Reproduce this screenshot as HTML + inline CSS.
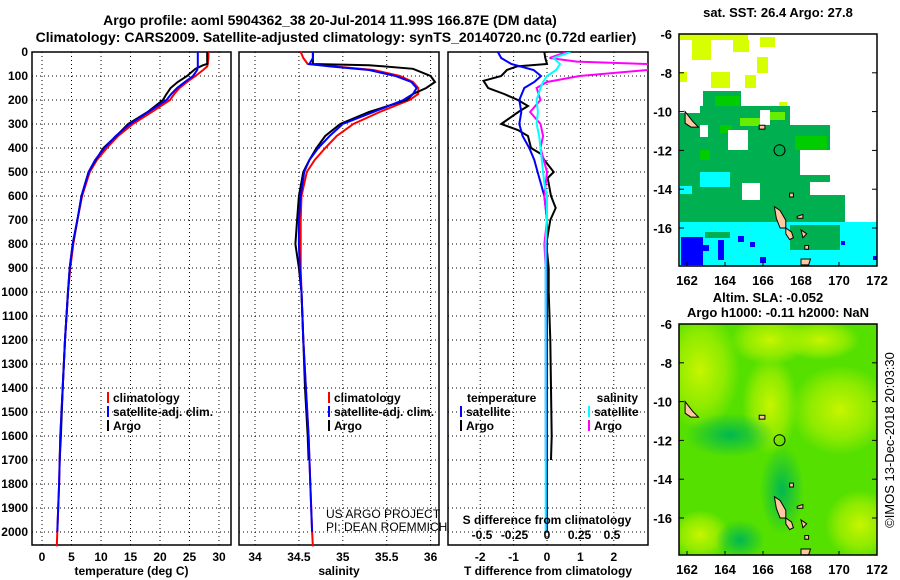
<!DOCTYPE html>
<html><head><meta charset="utf-8"><style>
html,body{margin:0;padding:0;background:#fff;}
svg{display:block;font-family:"Liberation Sans",sans-serif;}
.t{font-weight:bold;font-size:12px;}
.g{stroke:#000;stroke-width:1;stroke-dasharray:1,3;}
</style></head><body>
<svg id="chart" width="900" height="580" viewBox="0 0 900 580" xmlns="http://www.w3.org/2000/svg">
<defs>
<clipPath id="c3"><rect x="448" y="52" width="200" height="493"/></clipPath>
<clipPath id="cm1"><rect x="679" y="34" width="198" height="232"/></clipPath>
<clipPath id="cm2"><rect x="679" y="324" width="198" height="231"/></clipPath>
<radialGradient id="yg"><stop offset="0" stop-color="#c8f500"/><stop offset="0.6" stop-color="#aaf000" stop-opacity="0.7"/><stop offset="1" stop-color="#aaf000" stop-opacity="0"/></radialGradient>
<radialGradient id="dg"><stop offset="0" stop-color="#00b850"/><stop offset="1" stop-color="#00b850" stop-opacity="0"/></radialGradient>
</defs>
<text x="330" y="25" text-anchor="middle" style="font-weight:bold;font-size:14px">Argo profile: aoml 5904362_38 20-Jul-2014 11.99S 166.87E (DM data)</text>
<text x="336" y="42" text-anchor="middle" style="font-weight:bold;font-size:14px">Climatology: CARS2009. Satellite-adjusted climatology: synTS_20140720.nc (0.72d earlier)</text>
<g id="panels"></g>
<g id="maps"></g>
<text transform="translate(894,440) rotate(-90)" text-anchor="middle" style="font-size:13px">©IMOS 13-Dec-2018 20:03:30</text>
</svg>
<script>
// ---- data ----
const depthClim=[0,25,50,60,75,100,125,150,175,200,250,300,350,400,450,500,600,700,800,900,1000,1200,1400,1600,1800,2000,2060];
const tClim=[28.2,28.2,28.1,28.0,27.3,26.0,24.6,23.3,22.4,21.7,18.6,15.4,12.9,11.0,9.3,8.1,6.8,6.0,5.3,4.8,4.4,3.9,3.5,3.1,2.9,2.6,2.5];
const tSat=[26.4,26.4,26.4,26.4,26.3,25.6,24.2,22.9,21.9,21.1,18.0,14.9,12.5,10.6,9.0,7.9,6.7,6.0,5.2,4.7,4.4,3.9,3.5,3.1,2.9,2.6,2.6];
const sClim=[34.52,34.55,34.6,34.9,35.35,35.65,35.8,35.86,35.86,35.76,35.42,35.12,34.93,34.8,34.68,34.59,34.53,34.52,34.52,34.52,34.53,34.55,34.58,34.61,34.63,34.65,34.66];
const sSat=[34.66,34.66,34.62,34.85,35.3,35.6,35.78,35.84,35.8,35.69,35.35,35.0,34.85,34.72,34.62,34.56,34.52,34.5,34.5,34.51,34.53,34.55,34.58,34.61,34.63,34.65,34.65];
const depthArgo=[0,25,50,55,70,100,125,150,175,200,250,300,350,400,450,500,600,700,800,900,1000,1200,1400,1600,1700];
const tArgo=[28.0,28.0,28.0,27.3,26.0,24.6,23.0,21.8,21.1,20.5,17.9,14.6,12.6,10.4,9.1,7.9,6.7,6.0,5.2,4.7,4.4,3.9,3.5,3.2,3.0];
const sArgo=[34.66,34.66,34.66,35.3,35.8,36.0,36.05,35.95,35.8,35.73,35.3,34.97,34.8,34.7,34.62,34.55,34.5,34.48,34.46,34.5,34.53,34.55,34.57,34.6,34.61];
const depthDiffArgoT=[0,25,50,60,75,100,120,150,175,200,225,250,300,325,350,400,425,450,500,525,600,650,700,800,900,1000,1200,1400,1600,1700];
const dTArgo=[-0.08,-0.05,0,-0.9,-1.2,-1.37,-1.9,-1.76,-1.28,-0.87,-0.57,-0.86,-1.37,-0.87,-0.57,-0.48,-0.18,-0.08,0.2,0.02,0.12,0.26,0.1,-0.02,0.05,0.05,0.1,0.12,0.14,0.12];
const depthDiffSat=[0,25,50,75,100,125,150,200,250,300,350,400,450,500,550,600,700,800,1000,1500,2000];
const dTSat=[-1.47,-1.37,-1.07,-0.4,-0.18,-0.38,-0.68,-0.83,-0.77,-0.83,-0.73,-0.53,-0.38,-0.28,-0.18,-0.08,0,0,0,0,0];
const dSSat=[0.18,0.05,0.1,0.07,0,-0.03,-0.05,-0.08,-0.07,-0.08,-0.06,-0.05,-0.04,-0.03,-0.02,0,0,-0.01,-0.01,-0.01,-0.01];
const depthDiffArgoS=[0,25,40,50,60,75,100,125,150,200,250,300,350,400,500,600,700,800,900,1000,1400,1700];
const dSArgo=[0.15,0.02,0.23,0.77,0.85,0.77,0.25,0,-0.08,-0.05,-0.13,-0.05,-0.03,-0.05,0,-0.02,0,-0.02,-0.01,-0.01,-0.01,-0.01];
const depthTicks=[0,100,200,300,400,500,600,700,800,900,1000,1100,1200,1300,1400,1500,1600,1700,1800,1900,2000];
const tTicks=[0,5,10,15,20,25,30];
const sTicks=[34,34.5,35,35.5,36];
const sTickLabels=["34","34.5","35","35.5","36"];
const dTTicks=[-2,-1,0,1,2];
const dSTicks=[-0.5,-0.25,0,0.25,0.5];
const dSTickLabels=["-0.5","-0.25","0","0.25","0.5"];
const mapLatTicks=[-6,-8,-10,-12,-14,-16];
const mapLonTicks=[162,164,166,168,170,172];

// ---- scales ----
const yD=d=>52+0.24*d;
const xT=v=>42+5.9*v;
const xS=v=>255+87.8*(v-34);
const xdT=v=>547+33.4*v;
const xdS=v=>547+130*v;
const NS="http://www.w3.org/2000/svg";
function mk(tag,attrs,parent,txt){const e=document.createElementNS(NS,tag);for(const k in attrs)e.setAttribute(k,attrs[k]);if(txt!==undefined)e.textContent=txt;parent.appendChild(e);return e;}
const P=document.getElementById('panels');

function panel(x0,x1,name,ticks,labels,sx,xlabel){
  const g=mk('g',{},P);
  
  
  depthTicks.forEach(d=>{if(d>0){const l=mk('line',{x1:x0,x2:x1,y1:yD(d),y2:yD(d),class:'g'},g);}});
  ticks.forEach((v,i)=>{const x=sx(v);const l=mk('line',{x1:x,x2:x,y1:52,y2:545,class:'g'},g);
    const t=mk('text',{x:x,y:561,'text-anchor':'middle',class:'t'},g,labels[i]);});
  const r=mk('rect',{x:x0,y:52,width:x1-x0,height:493,fill:'none',stroke:'#000','stroke-width':1.5},g);
  
  const xl=mk('text',{x:(x0+x1)/2,y:575,'text-anchor':'middle',class:'t'},g,xlabel);
  
  return g;
}
function line(g,xs,ds,sx,color,name,clip){
  const pts=xs.map((v,i)=>sx(v).toFixed(1)+','+yD(ds[i]).toFixed(1)).join(' ');
  const a={points:pts,fill:'none',stroke:color,'stroke-width':2};
  if(clip)a['clip-path']='url(#c3)';
  const p=mk('polyline',a,g);
  
  
}
depthTicks.forEach(d=>{const t=mk('text',{x:28,y:yD(d)+4,'text-anchor':'end',class:'t'},P,String(d));});

const g1=panel(32,231,'temperature-panel',tTicks,tTicks.map(String),xT,'temperature (deg C)');
line(g1,tClim,depthClim,xT,'#f00','temperature-climatology-line');
line(g1,tArgo,depthArgo,xT,'#000','temperature-argo-line');
line(g1,tSat,depthClim.slice(0,26),xT,'#00f','temperature-satellite-line');
const g2=panel(239,439,'salinity-panel',sTicks,sTickLabels,xS,'salinity');
line(g2,sClim,depthClim,xS,'#f00','salinity-climatology-line');
line(g2,sArgo,depthArgo,xS,'#000','salinity-argo-line');
line(g2,sSat,depthClim.slice(0,26),xS,'#00f','salinity-satellite-line');
const g3=panel(448,648,'difference-panel',dTTicks,dTTicks.map(String),xdT,'T difference from climatology');
line(g3,dTArgo,depthDiffArgoT,xdT,'#000','t-diff-argo-line',1);
line(g3,dTSat,depthDiffSat,xdT,'#00f','t-diff-satellite-line',1);
line(g3,dSArgo,depthDiffArgoS,xdS,'#f0f','s-diff-argo-line',1);
line(g3,dSSat,depthDiffSat,xdS,'#0ff','s-diff-satellite-line',1);
const sl=mk('text',{x:547,y:524,'text-anchor':'middle',class:'t'},g3,'S difference from climatology');

dSTicks.forEach((v,i)=>{const t=mk('text',{x:xdS(v),y:539,'text-anchor':'middle',class:'t'},g3,dSTickLabels[i]);});

function legend(g,x,y,items){items.forEach((it,i)=>{const yy=y+i*14;
  const m=mk('line',{x1:x,x2:x,y1:yy-10,y2:yy+1,stroke:it[0],'stroke-width':2},g);
  const t=mk('text',{x:x+5,y:yy,class:'t'},g,it[1]);});}
legend(g1,108,402,[['#f00','climatology'],['#00f','satellite-adj. clim.'],['#000','Argo']]);
legend(g2,329,402,[['#f00','climatology'],['#00f','satellite-adj. clim.'],['#000','Argo']]);
let tt=mk('text',{x:467,y:402,class:'t'},g3,'temperature');
tt=mk('text',{x:638,y:402,class:'t','text-anchor':'end'},g3,'salinity');
legend(g3,461,416,[['#00f','satellite'],['#000','Argo']]);
legend(g3,589,416,[['#0ff','satellite'],['#f0f','Argo']]);
let cr=mk('text',{x:326,y:518,style:'font-size:12px'},P,'US ARGO PROJECT');
cr=mk('text',{x:326,y:531,style:'font-size:12px'},P,'PI: DEAN ROEMMICH');

// ---- maps ----
const M=document.getElementById('maps');
function mapFrame(name){
  const g=mk('g',{},M);
  
  
  return g;
}
function mapAxes(g,y0,h){
  const r=mk('rect',{x:679,y:y0,width:198,height:h,fill:'none',stroke:'#000','stroke-width':1.5},g);
  mapLatTicks.forEach(v=>{const y=y0+19.4*(-6-v);mk('line',{x1:679,x2:684,y1:y,y2:y,stroke:'#000'},g);mk('line',{x1:872,x2:877,y1:y,y2:y,stroke:'#000'},g);
    const t=mk('text',{x:672,y:y+5,'text-anchor':'end',class:'t',style:'font-size:13px'},g,String(v));});
  mapLonTicks.forEach(v=>{const x=687+19*(v-162);mk('line',{x1:x,x2:x,y1:y0+h-4,y2:y0+h,stroke:'#000'},g);
    const t=mk('text',{x:x,y:y0+h+19,'text-anchor':'middle',class:'t',style:'font-size:13px'},g,String(v));});
}
function islands(g,y0){
  const c=(lon,lat)=>(687+19*(lon-162)).toFixed(1)+','+(y0+19.4*(-6-lat)).toFixed(1);
  const polys=[[[166.6,-14.9],[166.9,-15.1],[167.2,-15.6],[167.2,-16.0],[166.9,-16.0],[166.7,-15.5]],
   [[167.2,-16.0],[167.5,-16.2],[167.6,-16.5],[167.4,-16.6],[167.2,-16.3]],
   [[168.0,-16.1],[168.3,-16.3],[168.1,-16.5]],[[168.0,-17.6],[168.5,-17.6],[168.4,-17.9],[168.0,-17.9]],
   [[161.9,-10.0],[162.3,-10.5],[162.6,-10.8],[162.2,-10.8],[161.9,-10.6]],
   [[167.4,-14.2],[167.6,-14.2],[167.6,-14.4],[167.4,-14.4]],[[165.8,-10.7],[166.1,-10.7],[166.1,-10.9],[165.8,-10.9]],
   [[168.2,-16.9],[168.4,-16.9],[168.4,-17.1],[168.2,-17.1]],[[167.8,-15.4],[168.1,-15.3],[168.1,-15.5],[167.8,-15.5]]];
  polys.forEach(p=>{const e=mk('polygon',{points:p.map(q=>c(q[0],q[1])).join(' '),fill:'#ffc8a0',stroke:'#000','stroke-width':1},g);});
  const ci=mk('circle',{cx:687+19*4.87,cy:y0+19.4*5.99,r:5.5,fill:'none',stroke:'#000','stroke-width':1},g);
  
}
// map 1
const m1=mapFrame('sst-map');
const t1=mk('text',{x:778,y:17,'text-anchor':'middle',class:'t',style:'font-size:13px'},m1,'sat. SST: 26.4 Argo: 27.8');
const c1=mk('g',{'clip-path':'url(#cm1)'},m1);
const rects1=[
['#d8ff00',680,34,68,6],['#d8ff00',692,40,19,20],['#d8ff00',733,40,16,12],['#d8ff00',760,37,15,10],['#d8ff00',757,57,11,16],['#d8ff00',680,72,7,10],['#d8ff00',711,72,19,16],['#d8ff00',745,75,11,13],['#d8ff00',779,102,8,11],
['#00b050',703,91,38,20],['#00cc00',715,96,25,15],['#00b050',700,106,90,22],['#00b050',680,113,60,30],['#00b050',680,125,150,14],['#00b050',680,137,150,45],['#00cc00',795,136,32,14],
['#00b050',680,179,110,25],['#00b050',755,179,55,22],['#00b050',680,200,155,25],['#00b050',790,195,55,30],['#00cc00',700,150,10,10],['#00cc00',720,125,12,8],['#66ee00',740,118,20,8],['#66ee00',770,112,15,8],
['#fff',728,130,20,20],['#fff',742,183,18,17],['#fff',800,150,40,25],['#fff',700,125,8,12],['#fff',760,110,10,15],
['#00ffff',680,222,197,44],['#00ffff',700,172,30,15],['#00ffff',680,186,12,8],['#00b050',790,225,50,25],['#00b050',705,232,25,6],
['#0000ff',681,237,22,28],['#0000ff',703,245,6,6],['#0000ff',718,240,6,20],['#0000ff',738,236,6,6],['#0000ff',750,242,5,5],['#0000ff',760,257,6,6],['#0000ff',841,241,4,4],['#0000ff',873,256,4,4]];
rects1.forEach(r=>{const e=mk('rect',{x:r[1],y:r[2],width:r[3],height:r[4],fill:r[0]},c1);});
islands(c1,34);
mapAxes(m1,34,232);
// map 2
const m2=mapFrame('sla-map');
let t2=mk('text',{x:768,y:302,'text-anchor':'middle',class:'t',style:'font-size:13px'},m2,'Altim. SLA: -0.052');
t2=mk('text',{x:778,y:317,'text-anchor':'middle',class:'t',style:'font-size:13px'},m2,'Argo h1000: -0.11 h2000: NaN');
const c2=mk('g',{'clip-path':'url(#cm2)'},m2);
mk('rect',{x:679,y:324,width:198,height:231,fill:'#55e000'},c2);
[[700,370,40,60],[770,405,28,50],[840,410,50,45],[770,340,40,25],[860,525,35,35],[700,535,30,25],[820,340,40,20]].forEach(e=>{const el=mk('ellipse',{cx:e[0],cy:e[1],rx:e[2],ry:e[3],fill:'url(#yg)'},c2);});
[[782,490,22,45],[730,435,45,22],[740,540,25,20]].forEach(e=>{const el=mk('ellipse',{cx:e[0],cy:e[1],rx:e[2],ry:e[3],fill:'url(#dg)'},c2);});
islands(c2,324);
mapAxes(m2,324,231);
</script>
</body></html>
